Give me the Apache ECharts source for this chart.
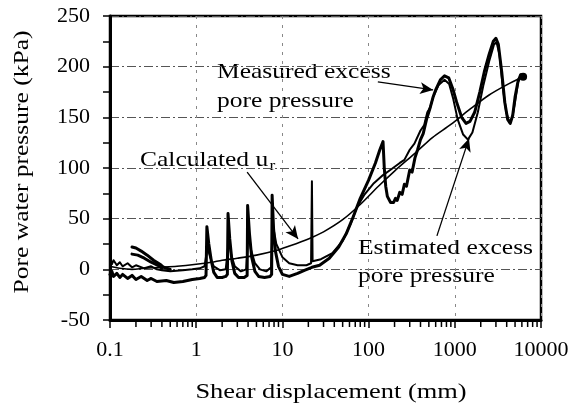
<!DOCTYPE html>
<html>
<head>
<meta charset="utf-8">
<script src="https://cdn.jsdelivr.net/npm/echarts@6/dist/echarts.min.js"></script>
<style>
  html, body { margin: 0; padding: 0; background: #fff; }
  #chart { width: 582px; height: 412px; }
</style>
</head>
<body>
<div id="chart"></div>
<script>
// Shear displacement (mm) on a log axis, pore water pressure (kPa) on a linear axis.
const xTickLabels = ['0.1', '1', '10', '100', '1000', '10000'];
const yTickLabels = ['-50', '0', '50', '100', '150', '200', '250'];

// Measured excess pore pressure (thick trace)
const measuredX = [0.1, 0.105, 0.11, 0.12, 0.13, 0.14, 0.16, 0.18, 0.2, 0.23, 0.27, 0.3, 0.35, 0.45, 0.55, 0.7, 0.9, 1.1, 1.25,
  1.3, 1.33, 1.4, 1.5, 1.6, 1.75, 2.0, 2.2,
  2.3, 2.34, 2.45, 2.6, 2.8, 3.1, 3.6, 3.9,
  3.95, 4.15, 4.4, 4.8, 5.3, 6.2, 7.2, 7.5,
  7.6, 7.9, 8.3, 9, 10, 12, 15, 18, 22, 27, 35, 45, 55, 65, 80, 100, 120, 135, 147,
  152, 158, 165, 180, 195, 205, 215, 230, 245, 260, 275, 300, 320, 345, 370, 400, 430, 470, 520, 560, 600, 680, 760, 850, 950, 1050, 1200, 1350,
  1500, 1700, 1950, 2200, 2500, 2800, 3000, 3200, 3500, 3800, 4100, 4400, 4700, 5000, 5400, 5800];
const measuredY = [-5, -2, -7, -4, -8, -5, -9, -6, -10, -7, -11, -9, -12, -11, -13, -12, -10, -9, -8,
  -6, 42, 25, 8, -3, -8, -8, -7,
  -5, 55, 30, 8, -4, -8, -8, -6,
  63, 35, 12, -2, -7, -8, -7, -5,
  73, 40, 18, 3, -5, -7, -4, -1, 2, 4, 11, 22, 35, 50, 70, 88, 105, 118, 126,
  100, 82, 72, 66, 66, 70, 68, 76, 74, 84, 82, 98, 96, 110, 118, 128, 134, 148, 160, 170, 177, 187, 191, 189, 178, 165, 150, 144,
  146, 155, 175, 195, 212, 225, 228, 222, 195, 165, 148, 144, 152, 170, 185, 192];

// Estimated excess pore pressure
const estimatedX = [0.1, 0.105, 0.11, 0.12, 0.13, 0.14, 0.16, 0.18, 0.2, 0.25, 0.3, 0.35, 0.4, 0.5, 0.7, 0.9, 1.1, 1.25,
  1.35, 1.45, 1.6, 1.9, 2.2, 2.4, 2.55, 2.8, 3.3, 3.8, 4.05, 4.3, 4.8, 5.5, 6.5, 7.4, 7.7, 8.5, 10, 12, 15, 19, 21.5,
  22, 22.4, 28, 38, 50, 62, 73, 90, 115, 147, 185, 230, 260, 300, 340, 400, 440, 480, 520, 560, 650, 760, 860, 960, 1080, 1250, 1420,
  1600, 1850, 2150, 2500, 2850, 3050, 3300, 3600, 3950, 4300, 4650, 5000, 5500];
const estimatedY = [8, 5, 9, 4, 7, 3, 6, 2, 4, 1, 3, 0, -1, -2, -1, 0, 1, 3,
  22, 12, 3, -1, 0, 30, 14, 3, -2, 0, 40, 20, 6, 0, -2, 2, 45, 25, 12, 6, 4, 4, 6,
  87, 8, 10, 16, 28, 45, 61, 74, 85, 93, 99, 105, 108, 118, 124, 137, 142, 155, 160, 170, 182, 187, 183, 168, 148, 133, 128,
  135, 155, 182, 205, 222, 224, 212, 180, 155, 145, 150, 165, 188];

// Two short traces beginning at 0.18 mm
const startTraceAX = [0.18, 0.2, 0.23, 0.27, 0.32, 0.38, 0.42, 0.5];
const startTraceAY = [22, 21, 18, 14, 9, 5, 2, 0];
const startTraceBX = [0.18, 0.21, 0.25, 0.3, 0.36, 0.4];
const startTraceBY = [15, 14, 11, 7, 4, 1];

// Calculated u_r
const calcX = [0.1, 0.13, 0.18, 0.25, 0.4, 0.6, 1, 1.5, 2, 3, 5, 8, 12, 20, 30, 50, 80, 130, 200, 350, 550, 900, 1500, 2500, 4000, 6200];
const calcY = [3, 1, 0, 1, 2, 3, 5, 7, 9, 11, 14, 18, 23, 30, 37, 49, 64, 82, 97, 115, 130, 143, 158, 172, 182, 190];

const zip = (xs, ys) => xs.map((x, i) => [x, ys[i]]);

// Minor tick positions on the log axis (2..9 in each decade)
const minorTickValues = [];
[0.1, 1, 10, 100, 1000].forEach(d => {
  for (let k = 2; k <= 9; k++) minorTickValues.push(+(d * k).toPrecision(3));
});

const SERIF = '"Liberation Serif", "Times New Roman", serif';
const black = '#000';

const chart = echarts.init(document.getElementById('chart'), null, { renderer: 'canvas' });

const traceStyle = (w) => ({ color: black, width: w, join: 'round', cap: 'round' });

chart.setOption({
  animation: false,
  backgroundColor: '#fff',
  grid: {
    left: 110, right: 41, top: 16, bottom: 92,
    show: true, borderColor: black, borderWidth: 2.5, backgroundColor: 'transparent'
  },
  xAxis: {
    type: 'log', logBase: 10, min: 0.1, max: 10000,
    axisLine: { onZero: false, lineStyle: { color: black, width: 3 } },
    axisTick: { show: true, length: 8, lineStyle: { color: black, width: 1.5 } },
    minorTick: { show: false },
    axisLabel: {
      color: black, fontFamily: SERIF, fontSize: 22, margin: 19,
      formatter: (v) => {
        const idx = Math.round(Math.log10(v)) + 1;
        return xTickLabels[idx] !== undefined ? xTickLabels[idx] : '';
      }
    },
    splitLine: { show: true, lineStyle: { color: '#888', width: 1, type: [3, 6] } }
  },
  yAxis: {
    type: 'value', min: -50, max: 250, interval: 50,
    axisLine: { show: true, onZero: false, lineStyle: { color: black, width: 3 } },
    axisTick: { show: true, length: 7, lineStyle: { color: black, width: 1.5 } },
    minorTick: { show: true, splitNumber: 2, length: 7, lineStyle: { color: black, width: 1.5 } },
    axisLabel: {
      color: black, fontFamily: SERIF, fontSize: 22, margin: 20,
      formatter: (v) => yTickLabels[Math.round((v + 50) / 50)]
    },
    splitLine: { show: true, lineStyle: { color: '#555', width: 1, type: [9, 3, 2, 3] } }
  },
  series: [
    {
      name: 'Minor ticks', type: 'custom', clip: false, silent: true, z: 5,
      data: minorTickValues.map(v => [v, -50]),
      renderItem: (params, api) => {
        const p = api.coord([api.value(0), -50]);
        return {
          type: 'line',
          shape: { x1: p[0], y1: p[1], x2: p[0], y2: p[1] + 7 },
          style: { stroke: black, lineWidth: 1.5 }
        };
      }
    },
    {
      name: 'Calculated u_r', type: 'line', data: zip(calcX, calcY), smooth: 0.3,
      symbol: 'circle', showSymbol: true, showAllSymbol: true,
      symbolSize: (val, params) => (params.dataIndex === calcX.length - 1 ? 8 : 0),
      itemStyle: { color: black },
      lineStyle: traceStyle(1.6), silent: true, z: 3,
      markLine: {
        silent: true, symbol: ['none', 'arrow'], symbolSize: [9, 13],
        label: { show: false },
        lineStyle: { color: black, width: 1.3, type: 'solid' },
        data: [
          [{ coord: [3.9, 96] }, { coord: [15.2, 30] }],
          [{ coord: [128, 185] }, { coord: [560, 177] }],
          [{ coord: [620, 33] }, { coord: [1460, 129] }]
        ]
      }
    },
    {
      name: 'Estimated excess pore pressure', type: 'line', data: zip(estimatedX, estimatedY),
      showSymbol: false, lineStyle: traceStyle(2), silent: true, z: 3
    },
    {
      name: 'Measured excess pore pressure', type: 'line', data: zip(measuredX, measuredY),
      showSymbol: false, lineStyle: traceStyle(3), silent: true, z: 4
    },
    {
      name: 'Start trace A', type: 'line', data: zip(startTraceAX, startTraceAY),
      showSymbol: false, lineStyle: traceStyle(3), silent: true, z: 4
    },
    {
      name: 'Start trace B', type: 'line', data: zip(startTraceBX, startTraceBY),
      showSymbol: false, lineStyle: traceStyle(3), silent: true, z: 4
    }
  ],
  graphic: [
    {
      type: 'text', x: 331, y: 392, scaleX: 1.2, silent: true,
      style: { text: 'Shear displacement (mm)', font: '22px ' + SERIF, fill: black, align: 'center', verticalAlign: 'middle' }
    },
    {
      type: 'text', x: 22, y: 162, rotation: Math.PI / 2, scaleX: 1.16, silent: true,
      style: { text: 'Pore water pressure (kPa)', font: '22px ' + SERIF, fill: black, align: 'center', verticalAlign: 'middle' }
    },
    {
      type: 'text', x: 217, y: 58, scaleX: 1.16, silent: true,
      style: { text: 'Measured excess\npore pressure', font: '22px ' + SERIF, fill: black, align: 'left', verticalAlign: 'top', lineHeight: 29 }
    },
    {
      type: 'text', x: 358, y: 234, scaleX: 1.16, silent: true,
      style: { text: 'Estimated excess\npore pressure', font: '22px ' + SERIF, fill: black, align: 'left', verticalAlign: 'top', lineHeight: 28 }
    },
    {
      type: 'text', x: 140, y: 146, scaleX: 1.16, silent: true,
      style: {
        text: '{a|Calculated u}{s|r}', align: 'left', verticalAlign: 'top',
        rich: {
          a: { font: '22px ' + SERIF, fill: black, lineHeight: 28 },
          s: { font: '15px ' + SERIF, fill: black, lineHeight: 28, verticalAlign: 'bottom', padding: [0, 0, 0, 1] }
        }
      }
    }
  ]
});
</script>
</body>
</html>
